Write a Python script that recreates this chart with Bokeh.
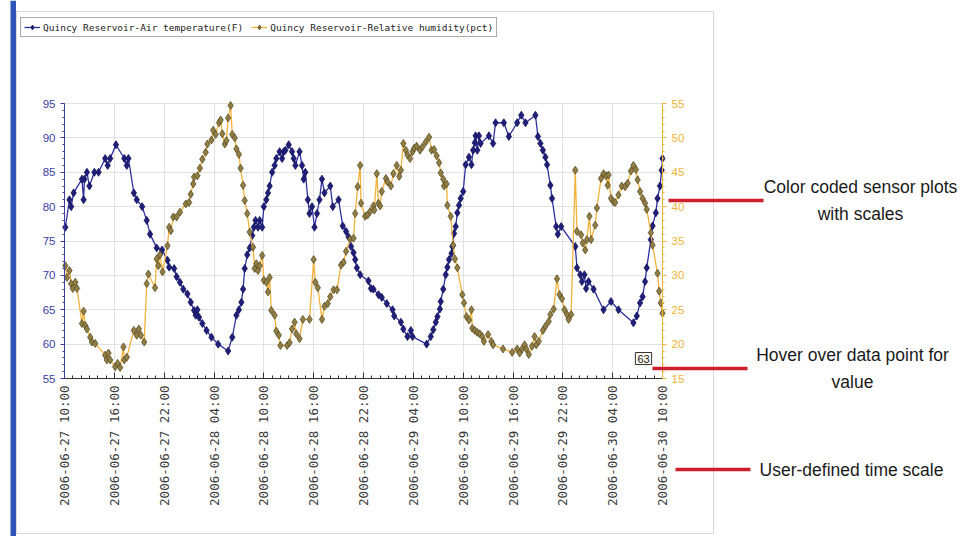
import math
from bokeh.plotting import figure
from bokeh.models import (Range1d, LinearAxis, FixedTicker, SingleIntervalTicker,
                          Legend, LegendItem, Label, BoxAnnotation)
from bokeh.embed import file_html
from bokeh.resources import INLINE

# ---------------- data (hours since 2006-06-27 10:00) ----------------
temp_hours = [0.1, 0.6, 0.8, 1.1, 2.1, 2.3, 2.4, 2.7, 3.0, 3.6, 4.1, 4.9, 5.2, 5.5, 6.2,
              7.2, 7.5, 7.7, 8.35, 8.7, 9.35, 9.9, 10.3, 11.1, 11.75, 12.4, 12.6, 13.2,
              13.5, 13.9, 14.3, 14.8, 15.2, 15.6, 15.8, 16.0, 16.2, 16.6, 17.1, 17.7,
              18.5, 19.7, 20.2, 20.7, 21.0, 21.3, 21.5, 21.7, 22.0, 22.3, 22.6, 22.8,
              23.0, 23.3, 23.5, 23.8, 24.0, 24.3, 24.5, 24.7, 25.0, 25.3, 25.5, 25.9,
              26.2, 26.4, 26.6, 27.0, 27.4, 27.6, 27.8, 28.3, 28.6, 28.8, 29.0, 29.3,
              29.5, 29.8, 30.1, 30.4, 30.7, 31.0, 31.3, 32.0, 32.3, 33.0, 33.5, 33.9,
              34.2, 34.5, 34.8, 35.0, 35.2, 35.6, 36.6, 36.9, 37.2, 37.8, 38.2, 38.8,
              39.5, 39.7, 40.5, 40.8, 41.3, 41.7, 41.9, 43.6, 44.1, 44.4, 44.7, 44.9,
              45.2, 45.3, 45.6, 45.9, 46.1, 46.3, 46.6, 46.7, 46.9, 47.1, 47.3, 47.5,
              47.7, 48.0, 48.3, 48.7, 49.0, 49.2, 49.4, 49.5, 49.7, 49.9, 50.1, 51.1,
              51.6, 51.9, 52.9, 53.5, 54.5, 55.0, 55.5, 56.7, 57.0, 57.3, 57.6, 57.9,
              58.1, 58.5, 58.7, 59.2, 59.4, 59.8, 61.5, 61.7, 62.1, 62.3, 62.6, 62.8,
              63.1, 63.7, 64.9, 65.8, 66.7, 68.5, 68.9, 69.3, 69.6, 69.9, 70.1, 70.6,
              70.8, 71.2, 71.4, 71.7, 71.9, 72.0]
temp_values = [77, 81, 80, 82, 84, 81, 84, 85, 83, 85, 85, 87, 86, 87, 89,
               87, 86, 87, 82, 81, 80, 78, 76, 74, 73.7, 72.2, 71.2, 71,
               69.8, 69, 68, 67.3, 66.1, 64.9, 64.2, 65, 63.9, 63, 62, 61,
               60, 59, 61, 64.2, 65, 66.1, 68, 71, 73, 74, 75.8, 77,
               78, 77, 78, 77, 80, 81, 82, 83, 85, 86, 87, 88,
               87, 88, 88.2, 89, 88, 87, 86, 88, 86, 84, 85, 81,
               79, 80, 77, 79, 81, 84, 82, 83, 80, 81, 77.2, 76.4,
               75.6, 74.2, 73.3, 72.3, 71.1, 70.1, 69.2, 68.1, 68, 67.2, 66.8, 65.9,
               65, 64.1, 63.2, 62.2, 61.1, 62, 61.1, 60, 61.1, 62.1, 63.2, 64,
               65.1, 66.2, 68, 70.1, 71.2, 72.3, 73.2, 74.2, 76.1, 77.1, 79.1, 80.2,
               81.2, 82.2, 86.1, 87.2, 86.1, 88.2, 89.3, 90.3, 88.2, 90.3, 89.2, 90.3,
               89.2, 92.2, 92.2, 90.2, 92.2, 93.3, 92.2, 93.3, 90.2, 89.2, 88.2, 87.2,
               86.1, 83.1, 81.2, 77.1, 76.0, 77.1, 74.2, 71.1, 70.1, 69.1, 70.1, 68.1,
               69.1, 68, 65, 66.2, 65, 63.1, 64.1, 66, 66.9, 69.1, 71.1, 75.2,
               77.2, 79.1, 81.2, 83, 85.3, 87]

hum_hours = [0.1, 0.3, 0.6, 0.8, 1.0, 1.3, 1.5, 2.1, 2.3, 2.5, 2.7, 3.1, 3.3, 3.7, 4.9,
             5.1, 5.3, 5.5, 6.1, 6.4, 6.7, 7.1, 7.2, 7.5, 8.35, 8.7, 8.95, 9.2, 9.6,
             9.9, 10.1, 10.9, 11.1, 11.3, 11.5, 11.8, 12.4, 12.6, 12.8, 13.1, 13.5,
             13.9, 14.6, 15.0, 15.2, 15.5, 15.6, 16.0, 16.3, 16.6, 17.0, 17.2, 17.7,
             17.9, 18.2, 18.6, 18.8, 19.0, 19.3, 19.5, 19.7, 20.0, 20.2, 20.5, 20.7,
             21.0, 21.2, 21.5, 21.7, 22.0, 22.3, 22.7, 22.9, 23.1, 23.3, 23.5, 23.8,
             24.0, 24.3, 24.5, 24.7, 24.9, 25.3, 25.5, 25.8, 26.0, 26.8, 27.1, 27.4,
             27.7, 27.9, 28.3, 28.7, 29.5, 30.0, 30.2, 30.5, 31.0, 31.3, 31.7, 32.0,
             32.4, 32.8, 33.3, 33.6, 33.9, 34.4, 34.8, 35.0, 35.3, 35.6, 35.7, 36.2,
             36.5, 36.8, 37.2, 37.3, 37.6, 37.8, 38.0, 38.2, 38.7, 38.9, 39.3, 39.6,
             40.0, 40.3, 40.5, 40.8, 41.1, 41.3, 41.6, 41.9, 42.1, 42.4, 42.8, 43.1,
             43.5, 43.9, 44.2, 44.5, 44.8, 45.1, 45.3, 45.6, 45.7, 46.0, 46.1, 46.5,
             46.8, 47.0, 47.3, 47.9, 48.1, 48.4, 48.7, 49.0, 49.1, 49.4, 49.7, 50.0,
             50.3, 50.5, 51.0, 51.4, 51.6, 52.8, 53.9, 54.5, 54.8, 55.1, 55.4, 55.6,
             55.9, 56.3, 56.6, 56.8, 57.1, 57.6, 57.9, 58.3, 58.5, 58.9, 59.3, 59.6,
             59.9, 60.2, 60.5, 60.7, 61.0, 61.5, 61.7, 62.2, 62.4, 62.7, 62.9, 63.2,
             63.4, 63.9, 64.1, 64.6, 64.9, 65.2, 65.4, 65.5, 65.8, 66.1, 66.3, 66.7,
             67.1, 67.5, 67.8, 68.2, 68.5, 68.8, 69.0, 69.3, 69.6, 69.9, 70.1, 70.6,
             70.8, 71.4, 71.6, 71.8, 72.0]
hum_values = [31.4, 29.7, 30.7, 28.8, 28.1, 29, 28.1, 23, 24.8, 22.7, 22.2, 21, 20.3, 20.1, 18.4,
              17.7, 18.7, 17.7, 16.7, 17.2, 16.6, 19.6, 17.7, 18.1, 22, 21.3, 22.2, 21.3, 20.3,
              28.8, 30.2, 28.2, 32.4, 31.4, 33, 30.5, 34.3, 37, 36.5, 38.5, 38.5,
              39.2, 40.4, 40.6, 41.8, 43.3, 44.3, 44.5, 45.6, 46.9, 47.9, 49.1, 49.7,
              51.1, 50.5, 52.2, 52.6, 50.6, 49.1, 49.6, 52.9, 54.7, 50.5, 50, 48.4,
              47.6, 45.6, 43.1, 40.9, 39, 36.3, 34.1, 31, 31.7, 30.7, 31.4, 32.9,
              29.3, 29, 27.6, 29.7, 24.9, 24.2, 21.9, 21.3, 19.8, 19.8, 20.2, 22.2,
              23.2, 21.5, 20.8, 23.6, 23.6, 32.3, 29, 28.2, 23.6, 25.5, 25.9, 26.9,
              27.9, 27.9, 31.5, 31.9, 33.5, 35.3, 35.4, 39, 42.9, 46, 40.5, 38.6,
              38.8, 39.3, 40.1, 39.5, 44.8, 40.5, 40.1, 42.2, 44.1, 43.6, 43, 44.8,
              46, 44.4, 45.3, 49.2, 48.2, 47.5, 47, 48, 48.5, 48.8, 48.2, 48.7,
              49.4, 50.1, 48.2, 48.3, 47.4, 46.4, 44.9, 44, 43, 43.3, 40.2, 38.6,
              34.4, 32.4, 31.1, 27.2, 26, 24, 23.5, 25, 22.3, 22, 21.7, 21.5,
              21.1, 20.4, 21.4, 20.4, 19.9, 19.3, 18.8, 19.3, 18.7, 19.3, 19.9, 19.3,
              18.5, 19.7, 21.1, 19.9, 20.4, 22, 22.6, 23.3, 24.3, 25.1, 29.5, 27.2,
              26.6, 25, 24.3, 23.6, 24.3, 45.3, 36.4, 35.9, 34.7, 33.7, 35.2, 38.6,
              35.2, 37.3, 39.8, 44.1, 44.8, 44.5, 43.1, 44.6, 41.2, 40.7, 40.6, 41.7,
              43, 42.9, 43.4, 45.2, 46, 45.4, 43.9, 42.2, 41.2, 40.5, 39.6, 36.2,
              34.4, 30.3, 27.7, 26, 24.5]

tick_hours = [0, 6, 12, 18, 24, 30, 36, 42, 48, 54, 60, 66, 72]
tick_labels = ["2006-06-27 10:00", "2006-06-27 16:00", "2006-06-27 22:00",
               "2006-06-28 04:00", "2006-06-28 10:00", "2006-06-28 16:00",
               "2006-06-28 22:00", "2006-06-29 04:00", "2006-06-29 10:00",
               "2006-06-29 16:00", "2006-06-29 22:00", "2006-06-30 04:00",
               "2006-06-30 10:00"]
temp_limits = [55, 95]
hum_limits = [15, 55]
series_names = ["Quincy Reservoir-Air temperature(F)",
                "Quincy Reservoir-Relative humidity(pct)"]
hover_value = "63"
notes = [["Color coded sensor plots", "with scales"],
         ["Hover over data point for", "value"],
         ["User-defined time scale"]]

# ---------------- geometry (page pixels) ----------------
W, H = 978, 536
FL, FR, FT, FB = 64, 662, 103, 378   # where the data area sits
t0, t1 = tick_hours[0], tick_hours[-1]
px_per_h = (FR - FL) / (t1 - t0)
px_per_u = (FB - FT) / (temp_limits[1] - temp_limits[0])
x_lo = t0 - FL / px_per_h
x_hi = t0 + (W - FL) / px_per_h
y_hi = temp_limits[1] + FT / px_per_u
y_lo = temp_limits[0] - (H - FB) / px_per_u
shift = temp_limits[0] - hum_limits[0]

p = figure(width=W, height=H, output_backend="svg", toolbar_location=None,
           x_range=Range1d(x_lo, x_hi), y_range=Range1d(y_lo, y_hi),
           min_border=0, min_border_left=0, min_border_right=0,
           min_border_top=0, min_border_bottom=0)
p.outline_line_color = None
p.background_fill_color = "white"
p.border_fill_color = "white"
p.extra_y_ranges = {"hum": Range1d(y_lo - shift, y_hi - shift)}

BLUE = "#3d3da6"
ORANGE = "#f0b437"

# x axis
xa = p.xaxis[0]
xa.fixed_location = temp_limits[0]
xa.bounds = (t0, t1)
xa.ticker = FixedTicker(ticks=tick_hours, minor_ticks=list(range(t0, t1 + 1)))
xa.major_label_overrides = {h: lab for h, lab in zip(tick_hours, tick_labels)}
xa.major_label_orientation = math.pi / 2
xa.major_label_text_font = "DejaVu Sans Mono"
xa.major_label_text_font_size = "12.5px"
xa.major_label_text_color = "#3a3a3a"
xa.major_label_standoff = 7
xa.axis_line_color = "#333333"
xa.major_tick_in = 6
xa.major_tick_out = 0
xa.minor_tick_in = 3
xa.minor_tick_out = 0
xa.major_tick_line_color = "#333333"
xa.minor_tick_line_color = "#333333"

# left axis
ya = p.yaxis[0]
ya.fixed_location = t0
ya.bounds = tuple(temp_limits)
ya.ticker = SingleIntervalTicker(interval=5, num_minor_ticks=5)
ya.axis_line_color = BLUE
ya.major_tick_line_color = BLUE
ya.minor_tick_line_color = BLUE
ya.major_tick_in = 0
ya.major_tick_out = 4
ya.minor_tick_in = 0
ya.minor_tick_out = 2
ya.major_label_text_color = BLUE
ya.major_label_text_font = "Liberation Sans"
ya.major_label_text_font_size = "11.5px"
ya.major_label_standoff = 5

# right axis
ra = LinearAxis(y_range_name="hum", fixed_location=t1, bounds=tuple(hum_limits),
                ticker=SingleIntervalTicker(interval=5, num_minor_ticks=5))
ra.axis_line_color = ORANGE
ra.major_tick_line_color = ORANGE
ra.minor_tick_line_color = ORANGE
ra.major_tick_in = 0
ra.major_tick_out = 4
ra.minor_tick_in = 0
ra.minor_tick_out = 2
ra.major_label_text_color = ORANGE
ra.major_label_text_font = "Liberation Sans"
ra.major_label_text_font_size = "11.5px"
ra.major_label_standoff = 5
p.add_layout(ra, "right")

p.xgrid.ticker = FixedTicker(ticks=tick_hours)
p.xgrid.bounds = (t0, t1)
p.xgrid.cross_bounds = tuple(temp_limits)
p.ygrid.ticker = SingleIntervalTicker(interval=5)
p.ygrid.bounds = tuple(temp_limits)
p.ygrid.cross_bounds = (t0, t1)
p.xgrid.grid_line_color = "#e2e2e2"
p.ygrid.grid_line_color = "#e2e2e2"

# series
lt = p.line(temp_hours, temp_values, line_color="#2f2fa0", line_width=1.3)
st = p.scatter(temp_hours, temp_values, marker="diamond", size=8,
               fill_color="#1f1f78", line_color="#151560", line_width=0.8)
lh = p.line(hum_hours, hum_values, line_color="#f2b23a", line_width=1.3,
            y_range_name="hum")
sh = p.scatter(hum_hours, hum_values, marker="diamond", size=8,
               fill_color="#8f7e45", line_color="#5c4d22", line_width=0.8,
               y_range_name="hum")


def sx(X):
    return X


def sy(Y):
    return H - Y


legend = Legend(items=[LegendItem(label=series_names[0], renderers=[lt, st]),
                       LegendItem(label=series_names[1], renderers=[lh, sh])],
                orientation="horizontal", location=(sx(20), sy(37)))
legend.label_text_font = "DejaVu Sans Mono"
legend.label_text_font_size = "9.5px"
legend.label_text_color = "#222222"
legend.border_line_color = "#555555"
legend.border_line_width = 1
legend.background_fill_color = "white"
legend.background_fill_alpha = 1
legend.glyph_width = 16
legend.glyph_height = 12
legend.label_standoff = 3
legend.label_height = 12
legend.spacing = 8
legend.padding = 3
legend.margin = 0
p.add_layout(legend, "center")

# outer chart frame and blue side bar
p.add_layout(BoxAnnotation(left=sx(16), right=sx(713), top=sy(11), bottom=sy(533),
                           left_units="screen", right_units="screen",
                           top_units="screen", bottom_units="screen",
                           fill_alpha=0, line_color="#808080", line_width=1))
p.add_layout(BoxAnnotation(left=sx(10), right=sx(15.5), top=sy(0), bottom=sy(H),
                           left_units="screen", right_units="screen",
                           top_units="screen", bottom_units="screen",
                           fill_color="#2f55b8", fill_alpha=1, line_color=None))

# hover tooltip box
p.add_layout(Label(x=sx(643), y=sy(358), x_units="screen", y_units="screen",
                   text=hover_value, text_align="center", text_baseline="middle",
                   text_font="Liberation Sans", text_font_size="11px",
                   text_color="#222222", border_line_color="#333333",
                   background_fill_color="#fbfbf2", padding=2))

# red pointer lines
RED = "#cc1f2c"
for x0, x1, yc in [(668, 763, 200), (652, 747, 368), (675, 750, 469)]:
    p.add_layout(BoxAnnotation(left=sx(x0), right=sx(x1), top=sy(yc - 1.8), bottom=sy(yc + 1.8),
                               left_units="screen", right_units="screen",
                               top_units="screen", bottom_units="screen",
                               fill_color=RED, fill_alpha=1, line_color=None))

# annotation texts
NOTE_FONT = "Liberation Sans"
note_pos = [[(860, 186), (860, 213)], [(852, 354), (852, 381)], [(851, 469)]]
for lines, poss in zip(notes, note_pos):
    for t, (X, Y) in zip(lines, poss):
        p.add_layout(Label(x=sx(X), y=sy(Y), x_units="screen", y_units="screen",
                           text=t, text_align="center", text_baseline="middle",
                           text_font=NOTE_FONT, text_font_size="17.5px",
                           text_color="#1a1a1a"))

open("out.html", "w").write(file_html(p, INLINE))
